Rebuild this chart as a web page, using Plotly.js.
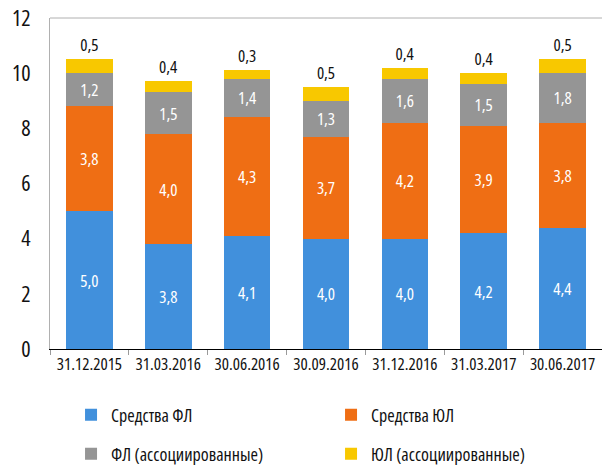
<!DOCTYPE html>
<html><head><meta charset="utf-8">
<script src="https://cdn.plot.ly/plotly-3.0.1.min.js"></script>
<style>html,body{margin:0;padding:0;background:#fff}#chart{width:602px;height:468px}
#chart svg text{font-stretch:condensed;}</style>
</head><body><div id="chart"></div>
<script>
const categories = ["31.12.2015","31.03.2016","30.06.2016","30.09.2016","31.12.2016","31.03.2017","30.06.2017"];
const fl      = [5.0, 3.8, 4.1, 4.0, 4.0, 4.2, 4.4];
const ul      = [3.8, 4.0, 4.3, 3.7, 4.2, 3.9, 3.8];
const flAssoc = [1.2, 1.5, 1.4, 1.3, 1.6, 1.5, 1.8];
const ulAssoc = [0.5, 0.4, 0.3, 0.5, 0.4, 0.4, 0.5];
const names = ["Средства ФЛ","Средства ЮЛ","ФЛ (ассоциированные)","ЮЛ (ассоциированные)"];
const yTicks = [0,2,4,6,8,10,12];

const FONT = "Open Sans, sans-serif";
const colors = ["#4190dc","#ef6e14","#959595","#f8c800"];
const series = [fl, ul, flAssoc, ulAssoc];

const traces = series.map((vals, i) => ({
  type: "bar",
  x: categories,
  y: vals,
  name: names[i],
  legend: i < 2 ? "legend" : "legend2",
  marker: {color: colors[i], line: {width: 0}},
  texttemplate: "%{y:.1f}",
  textposition: i === 3 ? "outside" : "inside",
  insidetextanchor: "middle",
  textangle: 0,
  cliponaxis: false,
  textfont: {family: FONT, size: 17, color: i === 3 ? "#111" : "#ffffff"},
  constraintext: "none",
  hoverinfo: "skip"
}));

const legendCommon = {
  orientation: "h",
  xref: "container", yref: "container",
  x: 0.118, xanchor: "left",
  yanchor: "middle",
  entrywidth: 215, entrywidthmode: "pixels",
  traceorder: "normal",
  font: {family: FONT, size: 18, color: "#111"},
  bgcolor: "rgba(0,0,0,0)"
};

const layout = {
  width: 602, height: 468,
  margin: {l: 50, r: 0, t: 18, b: 119},
  paper_bgcolor: "#fff", plot_bgcolor: "#fff",
  barmode: "stack",
  bargap: 0.41,
  separators: ", ",
  showlegend: true,
  legend: Object.assign({}, legendCommon, {y: 1 - 415/468}),
  legend2: Object.assign({}, legendCommon, {y: 1 - 454/468}),
  xaxis: {
    type: "category",
    showline: true, linecolor: "#000", linewidth: 1,
    ticks: "outside", tickson: "boundaries", ticklen: 5, tickcolor: "#9a9a9a",
    tickangle: 0,
    tickfont: {family: FONT, size: 17, color: "#111"},
    showgrid: false, zeroline: false
  },
  yaxis: {
    range: [0, 12],
    tickvals: yTicks,
    ticktext: yTicks.map(String),
    showgrid: false, zeroline: false,
    showline: true, linecolor: "#b0b0b0", linewidth: 1, mirror: true,
    ticks: "", ticklabelstandoff: 14,
    tickfont: {family: FONT, size: 22, color: "#111"}
  },
  shapes: [
    {type: "line", xref: "paper", yref: "paper", x0: 0, x1: 1, y0: 1, y1: 1, line: {color: "#b0b0b0", width: 1}}
  ]
};

Plotly.newPlot("chart", traces, layout, {displayModeBar: false, staticPlot: true});
</script></body></html>
